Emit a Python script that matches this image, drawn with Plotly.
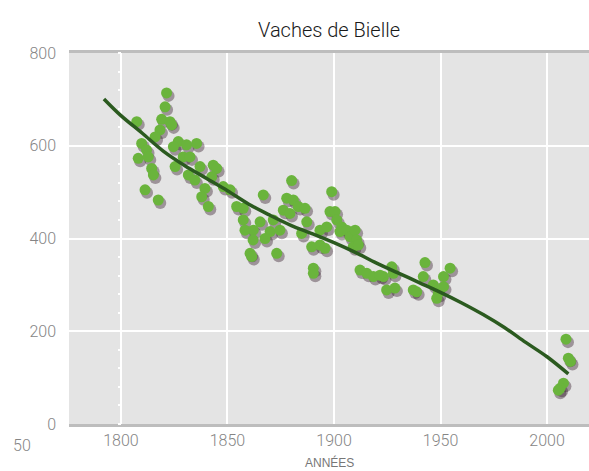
import plotly.graph_objects as go

# ---- data ----
years = [1821.4, 1820.7, 1807.4, 1819.1, 1823.0, 1823.8, 1818.3, 1816.0, 1809.7, 1826.9,
         1824.6, 1830.8, 1835.5, 1812.0, 1808.1, 1812.8, 1829.2, 1832.4, 1814.4, 1815.2,
         1825.4, 1837.1, 1843.3, 1844.9, 1831.6, 1834.7, 1839.4, 1842.6, 1837.9, 1841.0,
         1811.3, 1817.5, 1848.0, 1851.2, 1854.3,
         1880.1, 1866.8, 1898.9, 1877.8, 1880.9, 1876.2, 1879.3, 1883.2, 1886.4, 1857.4,
         1857.4, 1858.2, 1862.1, 1865.3, 1870.0, 1874.6, 1871.5, 1862.0, 1867.6, 1860.6,
         1861.4, 1873.1, 1887.2, 1884.8, 1893.4, 1896.6, 1889.5, 1893.4, 1895.8, 1890.3,
         1890.3, 1898.1, 1900.5, 1901.3, 1903.6, 1902.8, 1906.0, 1907.5, 1909.9, 1910.6,
         1909.0, 1911.4, 1912.2, 1915.4, 1918.5,
         1923.2, 1927.1, 1927.9, 1924.7, 1928.6, 1921.6, 1942.7, 1937.2, 1938.8, 1941.9,
         1946.6, 1949.0, 1951.4, 1951.4, 1954.5, 1948.2,
         2008.9, 2010.0, 2011.0, 2007.7, 2006.1, 2005.3]
cows = [714, 684, 652, 657, 652, 645, 634, 619, 605, 609,
        598, 602, 605, 591, 573, 576, 576, 576, 551, 537,
        555, 555, 558, 551, 537, 526, 508, 533, 490, 469,
        505, 483, 512, 505, 469,
        525, 494, 501, 487, 483, 461, 454, 469, 465, 465,
        440, 418, 418, 436, 415, 418, 440, 397, 400, 368,
        361, 368, 436, 411, 418, 425, 382, 386, 379, 336,
        325, 458, 458, 440, 425, 415, 418, 404, 418, 397,
        382, 386, 332, 325, 318,
        318, 339, 325, 289, 293, 321, 348, 289, 285, 318,
        300, 282, 296, 318, 336, 271,
        183, 142, 135, 88, 77, 73]

trend_years = [1792, 1800, 1810, 1820, 1830, 1840, 1850, 1860, 1870, 1880, 1890, 1900,
               1910, 1920, 1930, 1940, 1950, 1960, 1970, 1980, 1990, 2000, 2010]
trend_vals = [701, 665, 627, 588, 557, 530, 503, 474, 450, 428, 410, 391,
              370, 347, 326, 305, 284, 261, 236, 208, 176, 145, 108]

x_ticks = [1800, 1850, 1900, 1950, 2000]
y_ticks = [0, 200, 400, 600, 800]

# ---- layout geometry ----
W, H = 589, 471
ML, MR, MT, MB = 69, 0, 53, 47
PW, PH = W - ML - MR, H - MT - MB
x_range = [1775.6, 2019.7]
y_range = [0, 800]
px_x = (x_range[1] - x_range[0]) / PW
px_y = (y_range[1] - y_range[0]) / PH

fig = go.Figure()

# soft shadow under the points
fig.add_trace(go.Scatter(
    x=[v + 2.0 * px_x for v in years], y=[v - 3.0 * px_y for v in cows],
    mode="markers", hoverinfo="skip", showlegend=False,
    marker=dict(size=12, color="rgba(60,35,50,0.42)", line=dict(width=0)),
))
fig.add_trace(go.Scatter(
    x=years, y=cows, mode="markers", showlegend=False,
    marker=dict(size=11, color="#6ab43c", line=dict(width=0)),
))
fig.add_trace(go.Scatter(
    x=trend_years, y=trend_vals, mode="lines", showlegend=False,
    line=dict(color="#2b5a1f", width=3.5, shape="spline"),
))
# helper trace for the small white ticks along the 1800 line
fig.add_trace(go.Scatter(x=[None], y=[None], yaxis="y2", showlegend=False, hoverinfo="skip"))

tick_font = dict(family="Roboto, Liberation Sans, Arial", size=16, color="#858585", weight=300)

fig.update_layout(
    width=W, height=H,
    margin=dict(l=ML, r=MR, t=MT, b=MB),
    paper_bgcolor="white",
    plot_bgcolor="#e4e4e4",
    title=dict(text="Vaches de Bielle", x=(ML + PW / 2) / W, xanchor="center",
               y=1 - 30 / H, yanchor="middle",
               font=dict(family="Roboto, sans-serif", weight=300,
                         size=20, color="#1a1a1a")),
    xaxis=dict(range=x_range, tickvals=x_ticks, showgrid=True, gridcolor="white", gridwidth=2,
               zeroline=False, showline=True, mirror=True, linecolor="#bdbdbd", linewidth=3,
               ticks="", tickfont=tick_font, ticklabelstandoff=0),
    yaxis=dict(range=y_range, tickvals=y_ticks, showgrid=True, gridcolor="white", gridwidth=2,
               zeroline=False, showline=False, ticks="", tickfont=tick_font,
               ticklabelstandoff=12),
    yaxis2=dict(range=y_range, overlaying="y", anchor="free",
                position=(1800 - x_range[0]) / (x_range[1] - x_range[0]),
                side="left", dtick=40, tick0=0, ticks="outside", ticklen=3, tickwidth=1.5,
                tickcolor="white", showticklabels=False, showgrid=False, zeroline=False,
                showline=False),
    annotations=[
        dict(text="50", xref="paper", yref="paper",
             x=(22 - ML) / PW, y=-(445 - (H - MB)) / PH,
             xanchor="center", yanchor="middle", showarrow=False, font=tick_font),
        dict(text="ANNÉES", xref="paper", yref="paper",
             x=0.5, y=-(462 - (H - MB)) / PH,
             xanchor="center", yanchor="middle", showarrow=False,
             font=dict(family="Liberation Sans, Arial", size=12, color="#777777")),
    ],
)

fig.write_html("out.html", config={"displayModeBar": False},
               post_script="document.body.style.margin='0';")
